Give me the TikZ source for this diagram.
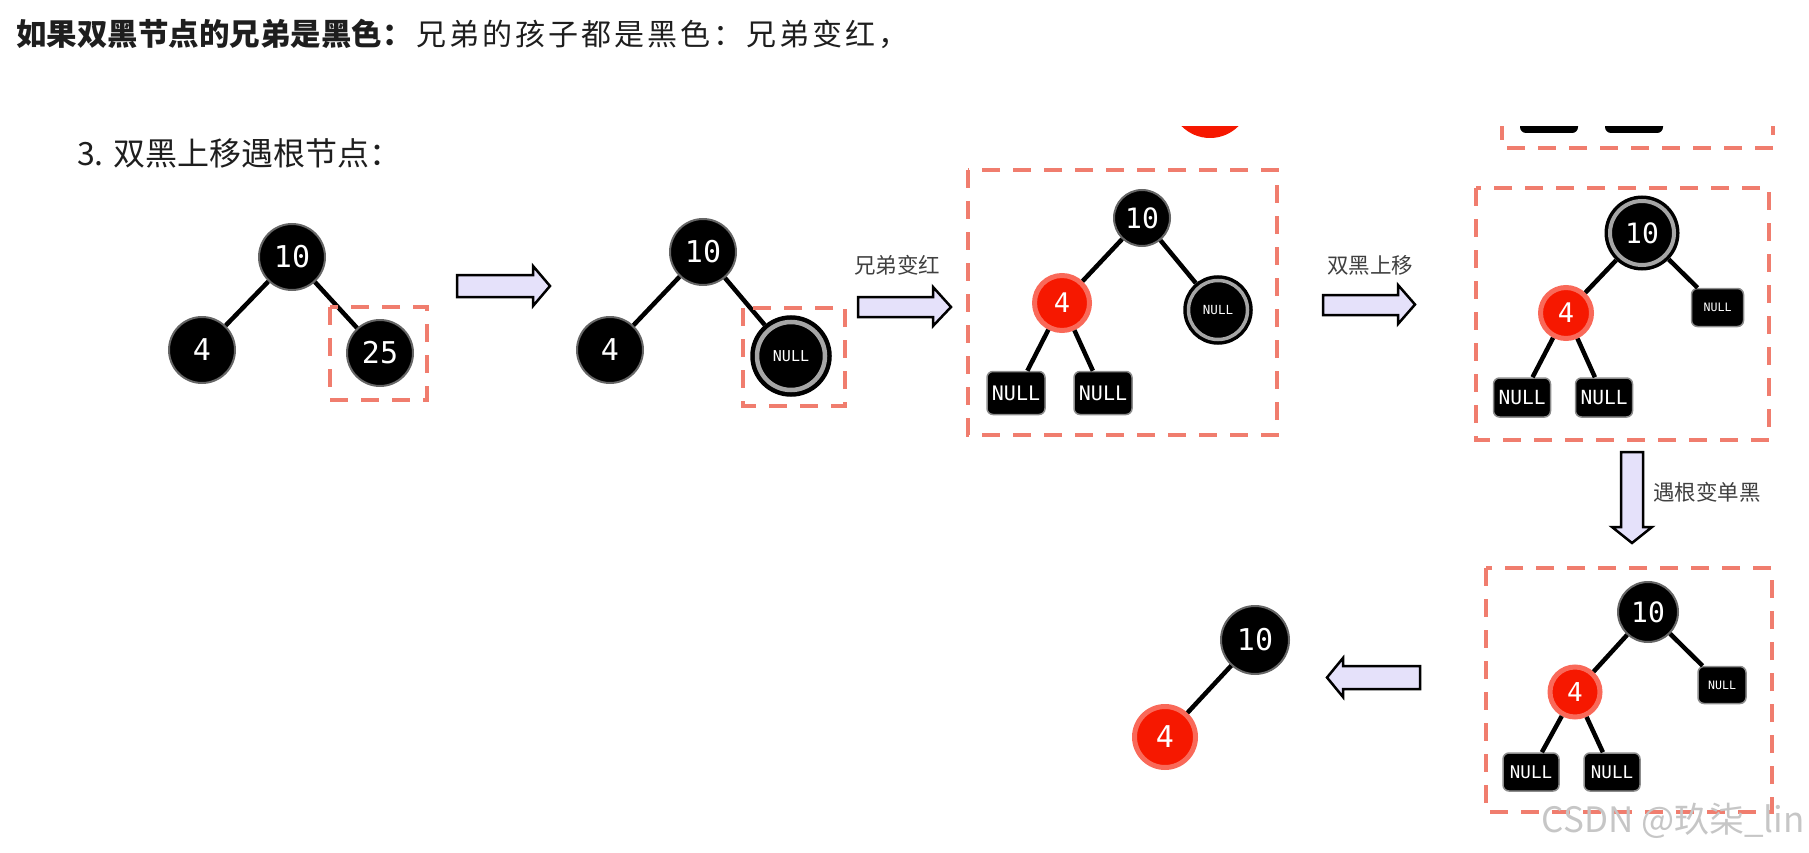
\documentclass[tikz,border=0pt]{standalone}
\usepackage{fontspec}
\setmainfont{Noto Sans CJK SC}
\newfontfamily\monofont{DejaVu Sans Mono}

\definecolor{nodered}{RGB}{246,24,0}
\definecolor{boxred}{RGB}{240,125,110}
\definecolor{arrowfill}{RGB}{229,225,250}
\definecolor{txtgray}{RGB}{30,30,30}

\newcommand{\digfont}[1]{\monofont\fontsize{#1}{#1}\selectfont}

\tikzset{
  tnode/.style={circle, inner sep=0pt, text=white, minimum size=66pt, font={\digfont{30}}},
  blk/.style={tnode, fill=black, draw=black!60, line width=2pt},
  rednode/.style={tnode, fill=nodered, draw=nodered!65, line width=5pt},
  dbl/.style={tnode, fill=black, draw=black, line width=4.5pt, double=gray!70,
    double distance=4.5pt, outer sep=6.75pt, font={\digfont{15}}},
  nullbox/.style={rectangle, rounded corners=6pt, fill=black, draw=black!45, line width=1.5pt,
    text=white, inner sep=0pt, minimum width=58pt, minimum height=43pt, font={\digfont{20}}},
  link/.style={line width=4.5pt, black},
  dashbox/.style={draw=boxred, line width=4.5pt, dash pattern=on 18pt off 13pt},
  fatarrow/.style={draw=black, line width=2.5pt, fill=arrowfill, line join=miter},
  hd/.style={inner sep=0pt, text=txtgray, font=\fontsize{30}{34}\selectfont\addfontfeature{LetterSpace=10}},
  lbl/.style={inner sep=0pt, text=txtgray!85, font=\fontsize{21.5}{24}\selectfont}
}

\begin{document}
\begin{tikzpicture}[x=1pt,y=-1pt]
\useasboundingbox (0,0) rectangle (1809,853);

% headings
\node[hd, anchor=west, font=\bfseries\fontsize{30.5}{34}\selectfont] (head1) at (16,34) {如果双黑节点的兄弟是黑色：};
\node[hd, anchor=west] (head2) at (416,34) {兄弟的孩子都是黑色：兄弟变红，};
\node[hd, anchor=west, font=\fontsize{32}{36}\selectfont] (head3) at (77,153) {3. 双黑上移遇根节点：};

% cut-off pieces at the top
\begin{scope}
\clip (1100,127) rectangle (1809,200);
\fill[nodered] (1210,98) circle (40);
\draw[dashbox] (1502,60) rectangle (1773,148);
\fill[black, rounded corners=6pt] (1520,90) rectangle (1578,133);
\fill[black, rounded corners=6pt] (1605,90) rectangle (1663,133);
\end{scope}

% tree 1
\node[blk] (a10) at (292,257) {10};
\node[blk] (a4) at (202,350) {4};
\node[blk] (a25) at (380,353) {25};
\draw[link] (a10) -- (a4);
\draw[link] (a10) -- (a25);
\draw[dashbox] (330,307) rectangle (427,400);

\draw[fatarrow] (457,275) -- ++(76,0) -- ++(0,-9) -- ++(17,20) -- ++(-17,20) -- ++(0,-9) -- ++(-76,0) -- cycle;

% tree 2
\node[blk] (b10) at (703,252) {10};
\node[blk] (b4) at (610,350) {4};
\node[dbl, minimum size=68pt] (bnil) at (791,356) {NULL};
\draw[link] (b10) -- (b4);
\draw[link] (b10) -- (bnil);
\draw[dashbox] (743,308) rectangle (845,406);

\node[lbl] (t1) at (897,265) {兄弟变红};
\draw[fatarrow] (858,297) -- ++(75,0) -- ++(0,-10) -- ++(18,20) -- ++(-18,19) -- ++(0,-9) -- ++(-75,0) -- cycle;

% tree 3
\draw[dashbox] (968,170) rectangle (1277,435);
\node[blk, minimum size=56pt, font={\digfont{28}}] (c10) at (1142,218) {10};
\node[rednode, minimum size=55pt, font={\digfont{27}}] (c4) at (1062,303) {4};
\node[dbl, minimum size=59pt, line width=3.5pt, double distance=3.5pt, outer sep=5.25pt,
  font={\digfont{12.5}}] (cnil) at (1218,310) {NULL};
\node[nullbox] (cl) at (1016,393) {NULL};
\node[nullbox] (cr) at (1103,393) {NULL};
\draw[link] (c10) -- (c4);
\draw[link] (c10) -- (cnil);
\draw[link] (c4) -- (cl);
\draw[link] (c4) -- (cr);

\node[lbl] (t2) at (1370,265) {双黑上移};
\draw[fatarrow] (1323,295) -- ++(75,0) -- ++(0,-10) -- ++(17,19.5) -- ++(-17,19.5) -- ++(0,-9) -- ++(-75,0) -- cycle;

% tree 4
\draw[dashbox] (1476,188) rectangle (1769,440);
\node[dbl, minimum size=64pt, line width=3.5pt, double distance=4pt, outer sep=5.5pt,
  font={\digfont{28}}] (d10) at (1642,233) {10};
\node[rednode, minimum size=51pt, font={\digfont{27}}] (d4) at (1566,313) {4};
\node[nullbox, minimum width=52pt, minimum height=38pt, font={\digfont{11.6}}] (dnil) at (1717.5,307.5) {NULL};
\node[nullbox, minimum width=57pt, minimum height=39pt, font={\digfont{19.5}}] (dl) at (1522,397.5) {NULL};
\node[nullbox, minimum width=57pt, minimum height=39pt, font={\digfont{19.5}}] (dr) at (1604,397.5) {NULL};
\draw[link] (d10) -- (d4);
\draw[link] (d10) -- (dnil);
\draw[link] (d4) -- (dl);
\draw[link] (d4) -- (dr);

\node[lbl, anchor=west] (t3) at (1653,492) {遇根变单黑};
\draw[fatarrow] (1621,452) -- ++(0,75) -- ++(-9,0) -- ++(20,16) -- ++(20,-16) -- ++(-9,0) -- ++(0,-75) -- cycle;

% tree 5
\draw[dashbox] (1486,568) rectangle (1772,812);
\node[blk, minimum size=60pt, font={\digfont{28}}] (e10) at (1648,612) {10};
\node[rednode, minimum size=50pt, font={\digfont{26}}] (e4) at (1575,692) {4};
\node[nullbox, minimum width=48pt, minimum height=37pt, font={\digfont{11.6}}] (enil) at (1722,685) {NULL};
\node[nullbox, minimum width=56pt, minimum height=38pt, font={\digfont{17.5}}] (el) at (1531,772) {NULL};
\node[nullbox, minimum width=56pt, minimum height=38pt, font={\digfont{17.5}}] (er) at (1612,772) {NULL};
\draw[link] (e10) -- (e4);
\draw[link] (e10) -- (enil);
\draw[link] (e4) -- (el);
\draw[link] (e4) -- (er);

\draw[fatarrow] (1420,666) -- ++(-77,0) -- ++(0,-8) -- ++(-16,19.5) -- ++(16,19.5) -- ++(0,-8) -- ++(77,0) -- cycle;

% result
\node[blk, minimum size=68pt] (f10) at (1255,640) {10};
\node[rednode, minimum size=61pt] (f4) at (1165,737) {4};
\draw[link] (f10) -- (f4);

\node[anchor=east, inner sep=0pt, text=gray!45, font=\fontsize{35}{38}\selectfont] (mark) at (1805,821) {CSDN @玖柒\_lin};
\end{tikzpicture}
\end{document}
